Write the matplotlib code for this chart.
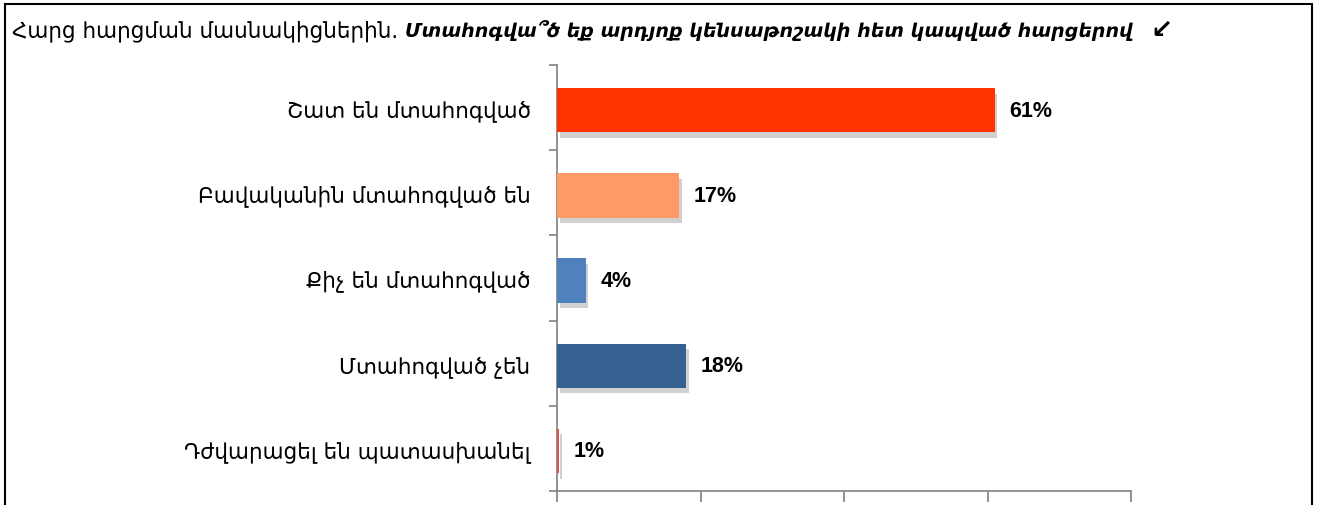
import matplotlib
matplotlib.use("Agg")
import matplotlib.pyplot as plt
import matplotlib.patheffects as pe
from matplotlib.patches import Rectangle
import numpy as np

# data
categories = ["Շատ են մտահոգված", "Բավականին մտահոգված են", "Քիչ են մտահոգված",
              "Մտահոգված չեն", "Դժվարացել են պատասխանել"]
values = [61, 17, 4, 18, 0.3]
value_labels = ["61%", "17%", "4%", "18%", "1%"]
colors = ["#FF3300", "#FF9966", "#4F81BD", "#376092", "#D9534F"]
xticks = [0, 20, 40, 60, 80]

title_plain = "Հարց հարցման մասնակիցներին. "
title_bold = "Մտահոգվա՞ծ եք արդյոք կենսաթոշակի հետ կապված հարցերով"

W, H = 1319, 506
fig = plt.figure(figsize=(W / 100, H / 100), dpi=100)
fig.patch.set_facecolor("white")

# outer frame
fig.patches.append(Rectangle((5 / W, -0.1), 1307 / W, 1.1 - 5 / H, transform=fig.transFigure,
                             fill=False, edgecolor="black", linewidth=1.5))

ax = fig.add_axes([557 / W, 1 - 492 / H, (1131 - 557) / W, (492 - 66) / H])

ypos = np.arange(len(categories))
bars = ax.barh(ypos + 0.03, values, height=0.52, color=colors, zorder=3)
for b in bars:
    b.set_path_effects([pe.SimplePatchShadow(offset=(2, -4), shadow_rgbFace="#666666", alpha=0.3),
                        pe.Normal()])

for y, v, lab in zip(ypos, values, value_labels):
    ax.annotate(lab, (v, y + 0.03), xytext=(10.5, 0), textcoords="offset points",
                va="center", ha="left", fontsize=15.5, fontweight="bold",
                family="Liberation Sans", color="black")

ax.set_xlim(0, 80)
ax.set_ylim(len(categories) - 0.5, -0.5)
ax.set_xticks(xticks)
ax.set_xticklabels([])
ax.set_yticks(ypos)
ax.set_yticklabels(categories, fontsize=15.5, family="DejaVu Sans")
ax.set_yticks(np.arange(len(categories) + 1) - 0.5, minor=True)
ax.tick_params(axis="y", which="major", length=0, pad=19)
ax.tick_params(axis="y", which="minor", length=6, color="#808080", width=1.2)
ax.tick_params(axis="x", length=8, color="#808080", width=1.2)

for s in ["top", "right"]:
    ax.spines[s].set_visible(False)
for s in ["left", "bottom"]:
    ax.spines[s].set_color("#808080")
    ax.spines[s].set_linewidth(1.2)

# title with regular and bold italic parts
t1 = fig.text(12 / W, 1 - 31 / H, title_plain, fontsize=15.5, va="center", ha="left")
fig.canvas.draw()
bb = t1.get_window_extent()
t2 = fig.text(bb.x1 / W, 1 - 31 / H, title_bold, fontsize=13.7, va="center", ha="left",
              fontweight="bold", fontstyle="italic")
fig.canvas.draw()
bb2 = t2.get_window_extent()
fig.text(bb2.x1 / W + 18 / W, 1 - 31 / H, "↙", fontsize=19, va="center", ha="left",
         fontweight="bold")

fig.savefig("out.png", dpi=100)
